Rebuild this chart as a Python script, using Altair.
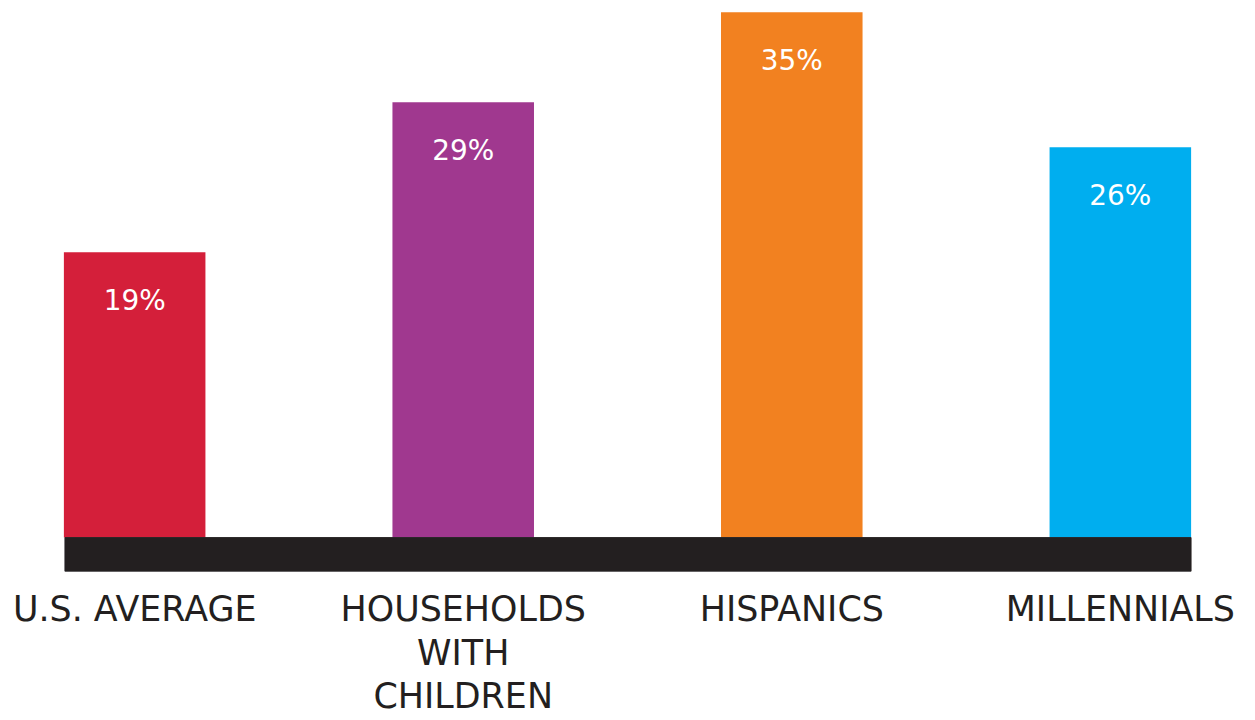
import altair as alt
import pandas as pd

categories = ["U.S. AVERAGE", "HOUSEHOLDS|WITH|CHILDREN", "HISPANICS", "MILLENNIALS"]
values = [19, 29, 35, 26]
labels = ["19%", "29%", "35%", "26%"]
colors = ["#D41F3A", "#A0388F", "#F28120", "#00AEEF"]

df = pd.DataFrame({"cat": categories, "val": values, "lab": labels})

W, H = 1243, 530

x = alt.X("cat:N", sort=categories,
          scale=alt.Scale(paddingInner=0.569, paddingOuter=0.17),
          axis=alt.Axis(title=None, domain=False, ticks=False, labelAngle=0,
                        labelExpr="split(datum.label, '|')", labelLimit=0,
                        labelFont="DejaVu Sans", labelFontSize=35, labelColor="#231F20",
                        labelLineHeight=44, labelPadding=55, labelBaseline="top",
                        labelFontWeight="normal"))
y = alt.Y("val:Q", scale=alt.Scale(domain=[0, 35.2], nice=False, zero=True), axis=None)

bars = alt.Chart(df).mark_bar(size=142).encode(
    x=x, y=y,
    color=alt.Color("cat:N", sort=categories,
                    scale=alt.Scale(domain=categories, range=colors), legend=None),
)

text = alt.Chart(df).mark_text(color="white", font="DejaVu Sans", fontSize=28,
                               fontWeight="normal", baseline="middle", dy=50).encode(
    x=alt.X("cat:N", sort=categories), y=y, text="lab:N")

band = alt.Chart(df).mark_rule(color="#231F20", strokeWidth=34, strokeCap="butt").encode(
    x=alt.value(57), x2=alt.value(1187), y=alt.value(547))

chart = alt.layer(bars, text, band).properties(
    width=W, height=H,
    background="white",
    autosize=alt.AutoSizeParams(type="none"),
    padding={"left": 0, "top": 0, "right": 0, "bottom": 180},
).configure_view(strokeWidth=0, stroke=None)

chart.save("out.html", embed_options={"renderer": "svg", "actions": False})
